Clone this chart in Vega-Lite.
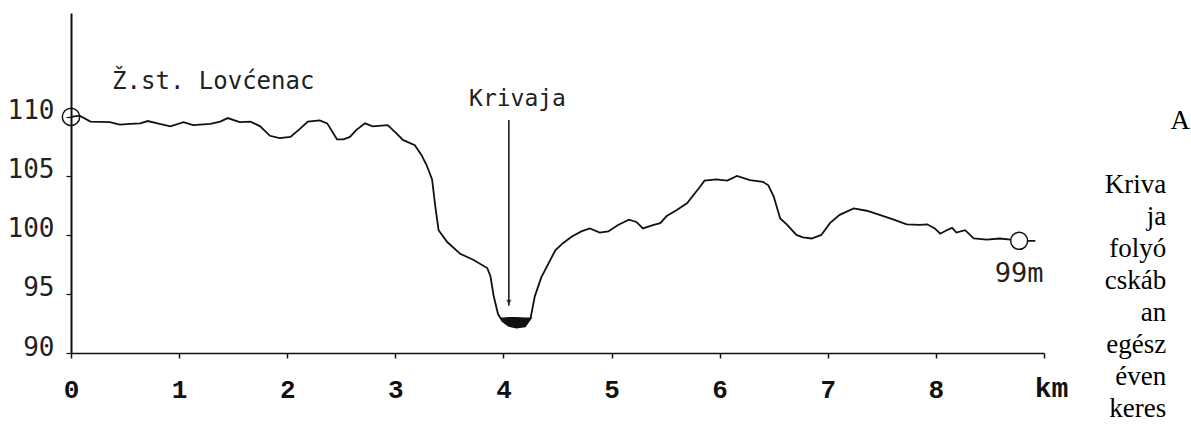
{
  "$schema": "https://vega.github.io/schema/vega-lite/v6.json",
  "width": 973,
  "height": 340,
  "autosize": {"type": "none"},
  "padding": {"left": 71, "top": 13, "right": 147, "bottom": 75},
  "background": "white",
  "config": {"view": {"stroke": null}, "axis": {"grid": false}},
  "datasets": {
    "profile": [
      {"km": 0.00, "elev": 110.0}, {"km": 0.08, "elev": 110.1}, {"km": 0.18, "elev": 109.6}, {"km": 0.36, "elev": 109.55},
      {"km": 0.45, "elev": 109.35}, {"km": 0.55, "elev": 109.4}, {"km": 0.64, "elev": 109.45}, {"km": 0.71, "elev": 109.65},
      {"km": 0.82, "elev": 109.4}, {"km": 0.92, "elev": 109.2}, {"km": 1.04, "elev": 109.55}, {"km": 1.13, "elev": 109.3},
      {"km": 1.29, "elev": 109.4}, {"km": 1.38, "elev": 109.6}, {"km": 1.45, "elev": 109.9}, {"km": 1.56, "elev": 109.55},
      {"km": 1.66, "elev": 109.6}, {"km": 1.75, "elev": 109.2}, {"km": 1.84, "elev": 108.4}, {"km": 1.93, "elev": 108.2},
      {"km": 2.03, "elev": 108.3}, {"km": 2.12, "elev": 109.0}, {"km": 2.19, "elev": 109.6}, {"km": 2.30, "elev": 109.7},
      {"km": 2.37, "elev": 109.45}, {"km": 2.46, "elev": 108.1}, {"km": 2.52, "elev": 108.1}, {"km": 2.58, "elev": 108.3},
      {"km": 2.64, "elev": 108.9}, {"km": 2.72, "elev": 109.45}, {"km": 2.79, "elev": 109.2}, {"km": 2.93, "elev": 109.3},
      {"km": 3.01, "elev": 108.6}, {"km": 3.07, "elev": 108.05}, {"km": 3.18, "elev": 107.6}, {"km": 3.24, "elev": 106.8},
      {"km": 3.29, "elev": 105.9}, {"km": 3.34, "elev": 104.7}, {"km": 3.37, "elev": 102.4}, {"km": 3.40, "elev": 100.4},
      {"km": 3.48, "elev": 99.4}, {"km": 3.60, "elev": 98.4}, {"km": 3.72, "elev": 97.9}, {"km": 3.85, "elev": 97.2},
      {"km": 3.88, "elev": 96.5}, {"km": 3.91, "elev": 94.8}, {"km": 3.95, "elev": 93.3}, {"km": 3.99, "elev": 92.7},
      {"km": 4.05, "elev": 92.3}, {"km": 4.12, "elev": 92.15}, {"km": 4.20, "elev": 92.25}, {"km": 4.25, "elev": 92.9},
      {"km": 4.29, "elev": 94.8}, {"km": 4.35, "elev": 96.4}, {"km": 4.40, "elev": 97.3}, {"km": 4.48, "elev": 98.7},
      {"km": 4.55, "elev": 99.3}, {"km": 4.63, "elev": 99.85}, {"km": 4.72, "elev": 100.3}, {"km": 4.80, "elev": 100.55},
      {"km": 4.89, "elev": 100.2}, {"km": 4.97, "elev": 100.3}, {"km": 5.06, "elev": 100.85}, {"km": 5.16, "elev": 101.3},
      {"km": 5.23, "elev": 101.1}, {"km": 5.29, "elev": 100.55}, {"km": 5.39, "elev": 100.85}, {"km": 5.45, "elev": 101.0},
      {"km": 5.51, "elev": 101.6}, {"km": 5.60, "elev": 102.1}, {"km": 5.70, "elev": 102.7}, {"km": 5.76, "elev": 103.4},
      {"km": 5.82, "elev": 104.1}, {"km": 5.86, "elev": 104.6}, {"km": 5.97, "elev": 104.7}, {"km": 6.07, "elev": 104.6},
      {"km": 6.16, "elev": 105.0}, {"km": 6.28, "elev": 104.65}, {"km": 6.40, "elev": 104.5}, {"km": 6.45, "elev": 104.2},
      {"km": 6.50, "elev": 103.25}, {"km": 6.56, "elev": 101.4}, {"km": 6.62, "elev": 100.9}, {"km": 6.71, "elev": 100.0},
      {"km": 6.77, "elev": 99.8}, {"km": 6.85, "elev": 99.7}, {"km": 6.94, "elev": 100.0}, {"km": 7.02, "elev": 101.0},
      {"km": 7.11, "elev": 101.7}, {"km": 7.24, "elev": 102.25}, {"km": 7.36, "elev": 102.05}, {"km": 7.48, "elev": 101.7},
      {"km": 7.61, "elev": 101.3}, {"km": 7.73, "elev": 100.9}, {"km": 7.85, "elev": 100.85}, {"km": 7.92, "elev": 100.9},
      {"km": 7.99, "elev": 100.55}, {"km": 8.04, "elev": 100.1}, {"km": 8.10, "elev": 100.4}, {"km": 8.15, "elev": 100.6},
      {"km": 8.19, "elev": 100.2}, {"km": 8.27, "elev": 100.4}, {"km": 8.35, "elev": 99.7}, {"km": 8.47, "elev": 99.6},
      {"km": 8.59, "elev": 99.7}, {"km": 8.69, "elev": 99.6}, {"km": 8.77, "elev": 99.5}, {"km": 8.92, "elev": 99.5}
    ],
    "water": [
      {"km": 3.97, "lo": 93.0, "hi": 93.0}, {"km": 4.00, "lo": 92.6, "hi": 93.0}, {"km": 4.05, "lo": 92.3, "hi": 93.05},
      {"km": 4.12, "lo": 92.15, "hi": 93.05}, {"km": 4.20, "lo": 92.25, "hi": 93.0}, {"km": 4.25, "lo": 92.85, "hi": 93.0},
      {"km": 4.27, "lo": 93.0, "hi": 93.0}
    ],
    "arrow": [{"km": 4.05, "top": 109.74, "bottom": 94.0, "tip": 94.3}],
    "ends": [{"place": "start", "km": 0.0, "elev": 110.0}, {"place": "end", "km": 8.77, "elev": 99.5}],
    "labels": [
      {"name": "station", "text": "Ž.st. Lovćenac", "km": 0.38, "elev": 112.36},
      {"name": "river", "text": "Krivaja", "km": 4.13, "elev": 110.92},
      {"name": "end", "text": "99m", "km": 8.77, "elev": 96.0},
      {"name": "unit", "text": "km", "km": 9.07, "elev": 86.27}
    ],
    "para": [
      {"line": 0, "word": "A"}, {"line": 2, "word": "Kriva"}, {"line": 3, "word": "ja"}, {"line": 4, "word": "folyó"},
      {"line": 5, "word": "cskáb"}, {"line": 6, "word": "an"}, {"line": 7, "word": "egész"}, {"line": 8, "word": "éven"},
      {"line": 9, "word": "keres"}
    ]
  },
  "layer": [
    {
      "layer": [
        {
          "data": {"name": "profile"},
          "mark": {"type": "line", "color": "#111111", "strokeWidth": 1.8},
          "encoding": {
            "x": {
              "field": "km", "type": "quantitative",
              "scale": {"domain": [0, 9], "nice": false, "zero": false},
              "axis": {
                "title": null, "values": [0, 1, 2, 3, 4, 5, 6, 7, 8, 9], "format": "d",
                "labelExpr": "datum.value == 9 ? '' : datum.label",
                "domainColor": "#111111", "domainWidth": 1.6,
                "tickColor": "#111111", "tickSize": 5, "tickWidth": 1.5,
                "labelFont": "Liberation Mono", "labelFontWeight": "bold", "labelFontSize": 26,
                "labelColor": "#111111", "labelPadding": 18.5, "labelFlush": false, "labelOverlap": false
              }
            },
            "y": {
              "field": "elev", "type": "quantitative",
              "scale": {"domain": [90, 118.8], "nice": false, "zero": false},
              "axis": {
                "title": null, "values": [90, 95, 100, 105, 110], "format": "d",
                "domainColor": "#111111", "domainWidth": 2,
                "tickColor": "#111111", "tickSize": 5, "tickWidth": 1.2,
                "labelFont": "DejaVu Sans Mono", "labelFontSize": 26, "labelColor": "#222222",
                "labelPadding": 12, "labelOffset": -6, "labelFlush": false, "labelOverlap": false
              }
            }
          }
        },
        {
          "data": {"name": "water"},
          "mark": {"type": "area", "color": "#111111"},
          "encoding": {
            "x": {"field": "km", "type": "quantitative"},
            "y": {"field": "lo", "type": "quantitative"},
            "y2": {"field": "hi"}
          }
        },
        {
          "data": {"name": "arrow"},
          "mark": {"type": "rule", "color": "#111111", "strokeWidth": 1.5},
          "encoding": {
            "x": {"field": "km", "type": "quantitative"},
            "y": {"field": "top", "type": "quantitative"},
            "y2": {"field": "bottom"}
          }
        },
        {
          "data": {"name": "arrow"},
          "mark": {"type": "point", "shape": "triangle-down", "filled": true, "color": "#111111", "size": 30},
          "encoding": {
            "x": {"field": "km", "type": "quantitative"},
            "y": {"field": "tip", "type": "quantitative"}
          }
        },
        {
          "data": {"name": "ends"},
          "transform": [{"filter": "datum.place == 'start'"}],
          "mark": {"type": "point", "shape": "circle", "filled": false, "stroke": "#111111", "strokeWidth": 1.5, "size": 300, "opacity": 1},
          "encoding": {
            "x": {"field": "km", "type": "quantitative"},
            "y": {"field": "elev", "type": "quantitative"}
          }
        },
        {
          "data": {"name": "ends"},
          "transform": [{"filter": "datum.place == 'end'"}],
          "mark": {"type": "point", "shape": "circle", "filled": true, "fill": "white", "stroke": "#111111", "strokeWidth": 1.5, "size": 290, "opacity": 1},
          "encoding": {
            "x": {"field": "km", "type": "quantitative"},
            "y": {"field": "elev", "type": "quantitative"}
          }
        },
        {
          "data": {"name": "labels"},
          "transform": [{"filter": "datum.name == 'station'"}],
          "mark": {"type": "text", "font": "DejaVu Sans Mono", "fontSize": 24, "align": "left", "baseline": "alphabetic", "color": "#222222"},
          "encoding": {
            "x": {"field": "km", "type": "quantitative"},
            "y": {"field": "elev", "type": "quantitative"},
            "text": {"field": "text"}
          }
        },
        {
          "data": {"name": "labels"},
          "transform": [{"filter": "datum.name == 'river'"}],
          "mark": {"type": "text", "font": "DejaVu Sans Mono", "fontSize": 23, "align": "center", "baseline": "alphabetic", "color": "#222222"},
          "encoding": {
            "x": {"field": "km", "type": "quantitative"},
            "y": {"field": "elev", "type": "quantitative"},
            "text": {"field": "text"}
          }
        },
        {
          "data": {"name": "labels"},
          "transform": [{"filter": "datum.name == 'end'"}],
          "mark": {"type": "text", "font": "DejaVu Sans Mono", "fontSize": 27, "align": "center", "baseline": "alphabetic", "color": "#222222"},
          "encoding": {
            "x": {"field": "km", "type": "quantitative"},
            "y": {"field": "elev", "type": "quantitative"},
            "text": {"field": "text"}
          }
        },
        {
          "data": {"name": "labels"},
          "transform": [{"filter": "datum.name == 'unit'"}],
          "mark": {"type": "text", "font": "Liberation Mono", "fontWeight": "bold", "fontSize": 28, "align": "center", "baseline": "alphabetic", "color": "#111111"},
          "encoding": {
            "x": {"field": "km", "type": "quantitative"},
            "y": {"field": "elev", "type": "quantitative"},
            "text": {"field": "text"}
          }
        }
      ]
    },
    {
      "layer": [
        {
          "data": {"name": "para"},
          "transform": [{"filter": "datum.line == 0"}],
          "mark": {"type": "text", "font": "Liberation Serif", "fontSize": 27, "align": "right", "baseline": "middle", "color": "#000000"},
          "encoding": {
            "x": {"datum": 10.35, "type": "quantitative"},
            "y": {"field": "line", "type": "quantitative", "scale": {"domain": [0, 9], "range": [108, 396]}, "axis": null},
            "text": {"field": "word"}
          }
        },
        {
          "data": {"name": "para"},
          "transform": [{"filter": "datum.line > 0"}],
          "mark": {"type": "text", "font": "Liberation Serif", "fontSize": 27, "align": "right", "baseline": "middle", "color": "#000000"},
          "encoding": {
            "x": {"datum": 10.13, "type": "quantitative"},
            "y": {"field": "line", "type": "quantitative", "scale": {"domain": [0, 9], "range": [108, 396]}, "axis": null},
            "text": {"field": "word"}
          }
        }
      ]
    }
  ],
  "resolve": {"scale": {"y": "independent"}}
}
